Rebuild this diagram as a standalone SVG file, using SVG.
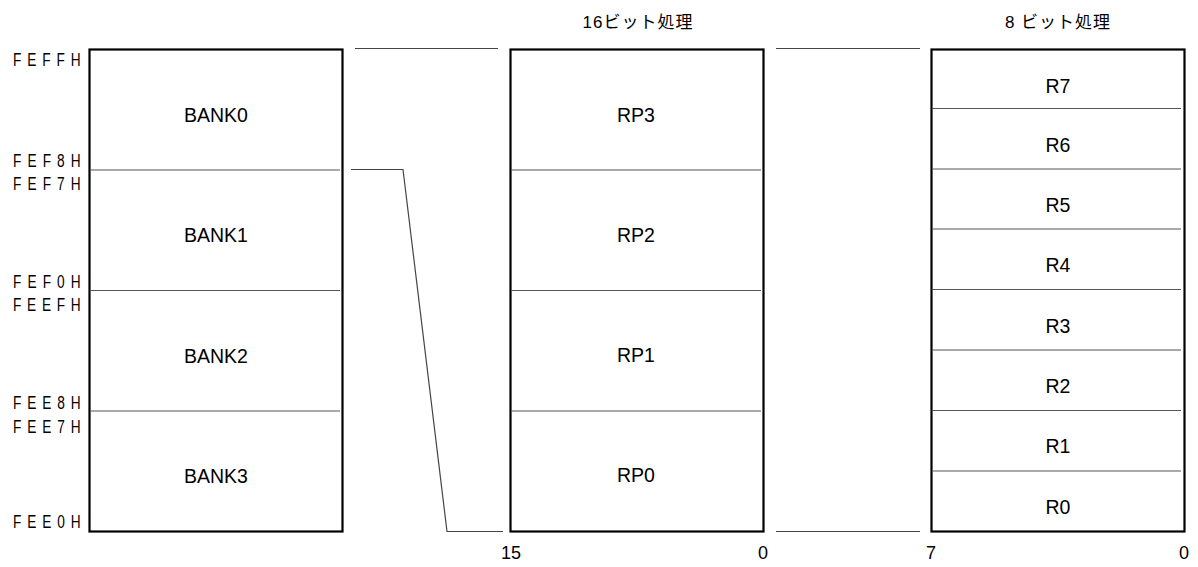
<svg xmlns="http://www.w3.org/2000/svg" width="1198" height="567" viewBox="0 0 1198 567">
<style>
.box{fill:#fff;stroke:#000;stroke-width:2.2}
.div{stroke:#555;stroke-width:1.2}
.con{fill:none;stroke:#444;stroke-width:1.2}
.lbl{font-family:"Liberation Sans",Arial,sans-serif;font-size:19.5px;fill:#000;text-anchor:middle}
.addr{font-family:"Liberation Sans",Arial,sans-serif;font-size:19px;fill:#000}
.hdr{font-family:"Liberation Sans","Noto Sans CJK JP",sans-serif;font-size:17px;fill:#000;text-anchor:middle;letter-spacing:1px}
.num{font-family:"Liberation Sans",Arial,sans-serif;font-size:18px;fill:#000;text-anchor:middle}
</style>
<rect width="1198" height="567" fill="#fff"/>
<g id="addresses">
<text class="addr" transform="translate(13,66) scale(0.72,1)" textLength="94" lengthAdjust="spacing">FEFFH</text>
<text class="addr" transform="translate(13,167) scale(0.72,1)" textLength="94" lengthAdjust="spacing">FEF8H</text>
<text class="addr" transform="translate(13,190) scale(0.72,1)" textLength="94" lengthAdjust="spacing">FEF7H</text>
<text class="addr" transform="translate(13,288) scale(0.72,1)" textLength="94" lengthAdjust="spacing">FEF0H</text>
<text class="addr" transform="translate(13,311) scale(0.72,1)" textLength="94" lengthAdjust="spacing">FEEFH</text>
<text class="addr" transform="translate(13,409) scale(0.72,1)" textLength="94" lengthAdjust="spacing">FEE8H</text>
<text class="addr" transform="translate(13,433) scale(0.72,1)" textLength="94" lengthAdjust="spacing">FEE7H</text>
<text class="addr" transform="translate(13,528) scale(0.72,1)" textLength="94" lengthAdjust="spacing">FEE0H</text>
</g>
<g id="banks">
<rect class="box" x="89.5" y="49.5" width="253" height="482"/>
<line class="div" x1="90" y1="170" x2="340" y2="170"/>
<line class="div" x1="90" y1="290.5" x2="340" y2="290.5"/>
<line class="div" x1="90" y1="411" x2="340" y2="411"/>
<text class="lbl" x="216" y="122">BANK0</text>
<text class="lbl" x="216" y="242">BANK1</text>
<text class="lbl" x="216" y="363">BANK2</text>
<text class="lbl" x="216" y="483">BANK3</text>
</g>
<g id="rp16">
<text class="hdr" x="638" y="28">16ビット処理</text>
<rect class="box" x="510.5" y="49.5" width="253" height="482"/>
<line class="div" x1="511" y1="170" x2="761" y2="170"/>
<line class="div" x1="511" y1="290.5" x2="761" y2="290.5"/>
<line class="div" x1="511" y1="411" x2="761" y2="411"/>
<text class="lbl" x="636" y="122">RP3</text>
<text class="lbl" x="636" y="242">RP2</text>
<text class="lbl" x="636" y="362">RP1</text>
<text class="lbl" x="636" y="482">RP0</text>
<text class="num" x="511" y="559">15</text>
<text class="num" x="763" y="559">0</text>
</g>
<g id="r8">
<text class="hdr" x="1058" y="28">8 ビット処理</text>
<rect class="box" x="931.5" y="49.5" width="253" height="482"/>
<line class="div" x1="932" y1="108.5" x2="1181" y2="108.5"/>
<line class="div" x1="932" y1="169" x2="1181" y2="169"/>
<line class="div" x1="932" y1="229" x2="1181" y2="229"/>
<line class="div" x1="932" y1="289.5" x2="1181" y2="289.5"/>
<line class="div" x1="932" y1="350" x2="1181" y2="350"/>
<line class="div" x1="932" y1="410.5" x2="1181" y2="410.5"/>
<line class="div" x1="932" y1="471" x2="1181" y2="471"/>
<text class="lbl" x="1058" y="93">R7</text>
<text class="lbl" x="1058" y="152">R6</text>
<text class="lbl" x="1058" y="212">R5</text>
<text class="lbl" x="1058" y="272">R4</text>
<text class="lbl" x="1058" y="333">R3</text>
<text class="lbl" x="1058" y="393">R2</text>
<text class="lbl" x="1058" y="453">R1</text>
<text class="lbl" x="1058" y="514">R0</text>
<text class="num" x="931" y="559">7</text>
<text class="num" x="1184" y="559">0</text>
</g>
<g id="connectors">
<polyline class="con" points="351,169.5 403,169.5 447,531.5 503,531.5"/>
<line class="con" x1="355" y1="48.5" x2="498" y2="48.5"/>
<line class="con" x1="776" y1="48.5" x2="920" y2="48.5"/>
<line class="con" x1="776" y1="531.5" x2="920" y2="531.5"/>
</g>
</svg>
